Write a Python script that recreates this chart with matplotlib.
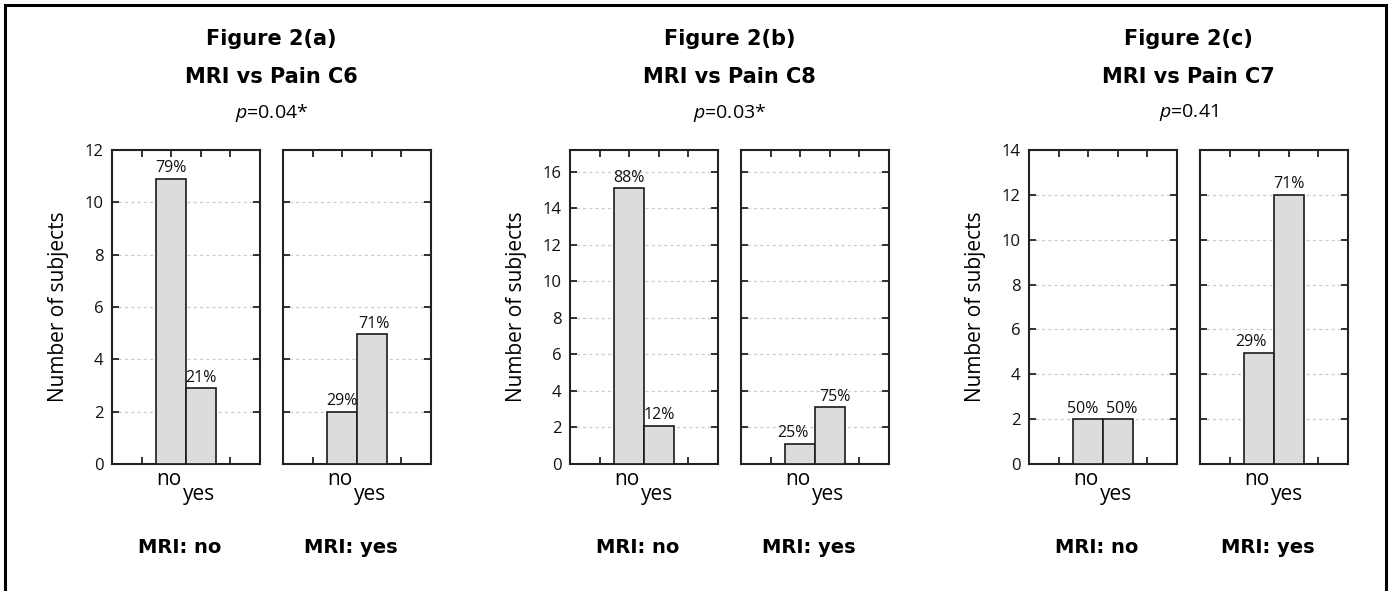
import matplotlib
matplotlib.use("Agg")
import matplotlib.pyplot as plt
from matplotlib.patches import Rectangle
import matplotlib.transforms as mtransforms

plt.rcParams['font.family'] = ['Open Sans', 'DejaVu Sans']
plt.rcParams['mathtext.fontset'] = 'custom'
plt.rcParams['mathtext.it'] = 'Open Sans:italic'
plt.rcParams['mathtext.rm'] = 'Open Sans'

# data
fig_titles = ["Figure 2(a)", "Figure 2(b)", "Figure 2(c)"]
sub_titles = ["MRI vs Pain C6", "MRI vs Pain C8", "MRI vs Pain C7"]
p_values = ["0.04*", "0.03*", "0.41"]
pain_levels = ["no", "yes"]
mri_groups = ["MRI: no", "MRI: yes"]
counts_mri_no = [[10.9, 2.9], [15.1, 2.1], [2.0, 2.0]]
counts_mri_yes = [[2.0, 4.95], [1.1, 3.1], [4.95, 12.0]]
pct_mri_no = [["79%", "21%"], ["88%", "12%"], ["50%", "50%"]]
pct_mri_yes = [["29%", "71%"], ["25%", "75%"], ["29%", "71%"]]
y_max = [12, 17.2, 14]
y_top_tick = [12, 16, 14]

# small horizontal nudges so labels don't collide
nudge_no = [[0, 0], [0, 0], [-0.17, 0.14]]
nudge_yes = [[0, 0.08], [-0.24, 0.16], [-0.29, 0.0]]

W, H = 1394, 591
fig = plt.figure(figsize=(W / 100, H / 100), dpi=100)

# outer frame
fig.patches.append(Rectangle((5 / W, -0.05), 1381 / W, 1.05 - 5.5 / H,
                             transform=fig.transFigure, fill=False,
                             edgecolor='black', linewidth=2.2))

left_px = [112, 570, 1029]
pair_gap = 171
ax_w = 148 / W
ax_b = (H - 464) / H
ax_h = (464 - 150) / H

for i in range(3):
    for j in range(2):
        x0 = (left_px[i] + j * pair_gap) / W
        ax = fig.add_axes([x0, ax_b, ax_w, ax_h])
        vals = counts_mri_no[i] if j == 0 else counts_mri_yes[i]
        pcts = pct_mri_no[i] if j == 0 else pct_mri_yes[i]
        nud = nudge_no[i] if j == 0 else nudge_yes[i]
        xs = [2, 3]
        ax.bar(xs, vals, width=1.0, color='#dcdcdc', edgecolor='#1a1a1a',
               linewidth=1.2, zorder=3)
        for x, v, p, n in zip(xs, vals, pcts, nud):
            ax.text(x + n, v + y_max[i] * 0.008, p, ha='center', va='bottom',
                    fontsize=11.5, color='#111111', zorder=4)
        ax.set_xlim(0, 5)
        ax.set_ylim(0, y_max[i])
        ax.set_xticks([1, 2, 3, 4])
        ax.set_xticklabels([])
        ax.set_yticks(list(range(0, y_top_tick[i] + 1, 2)))
        ax.tick_params(axis='both', direction='in', length=5, width=1.3,
                       top=True, right=True, colors='#222222',
                       labelsize=12, labelcolor='#111111', pad=6)
        ax.yaxis.grid(True, linestyle=(0, (2.5, 2.5)), color='#cccccc',
                      linewidth=0.9, zorder=0)
        for s in ax.spines.values():
            s.set_linewidth(1.5)
            s.set_color('#222222')
        trans = mtransforms.blended_transform_factory(ax.transData, ax.transAxes)
        ax.text(1.93, -0.015, pain_levels[0], transform=trans, ha='center',
                va='top', fontsize=15)
        ax.text(2.95, -0.065, pain_levels[1], transform=trans, ha='center',
                va='top', fontsize=15)
        ax.text(0.46, -0.265, mri_groups[j], transform=ax.transAxes,
                ha='center', va='center', fontsize=14, fontweight='bold',
                family='DejaVu Sans')
        if j == 0:
            ax.set_ylabel("Number of subjects", fontsize=15, labelpad=11)
        else:
            ax.set_yticklabels([])

    cx = (left_px[i] + pair_gap + 148 + left_px[i]) / 2 / W
    fig.text(cx, 1 - 39 / H, fig_titles[i], ha='center', va='center',
             fontsize=15, fontweight='bold', family='DejaVu Sans')
    fig.text(cx, 1 - 77 / H, sub_titles[i], ha='center', va='center',
             fontsize=15, fontweight='bold', family='DejaVu Sans')
    fig.text(cx, 1 - 113 / H, r"$\mathit{p}$=" + p_values[i], ha='center',
             va='center', fontsize=14)

fig.savefig("out.png", dpi=100, facecolor='white')
